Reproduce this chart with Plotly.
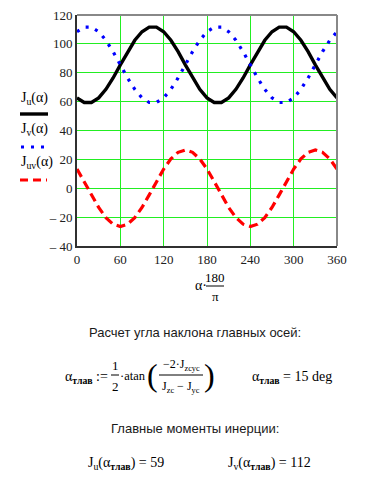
import plotly.graph_objects as go

# ---- data (step 10 deg) ----
alpha_deg = list(range(0, 361, 10))
Ju = [62.6, 59.4, 59.4, 62.6, 68.5, 76.4, 85.5, 94.6, 102.5, 108.4, 111.6, 111.6, 108.4,
      102.5, 94.6, 85.5, 76.4, 68.5, 62.6, 59.4, 59.4, 62.6, 68.5, 76.4, 85.5, 94.6,
      102.5, 108.4, 111.6, 111.6, 108.4, 102.5, 94.6, 85.5, 76.4, 68.5, 62.6]
Jv = [108.4, 111.6, 111.6, 108.4, 102.5, 94.6, 85.5, 76.4, 68.5, 62.6, 59.4, 59.4, 62.6,
      68.5, 76.4, 85.5, 94.6, 102.5, 108.4, 111.6, 111.6, 108.4, 102.5, 94.6, 85.5, 76.4,
      68.5, 62.6, 59.4, 59.4, 62.6, 68.5, 76.4, 85.5, 94.6, 102.5, 108.4]
Juv = [13.3, 4.6, -4.6, -13.3, -20.3, -24.9, -26.5, -24.9, -20.3, -13.3, -4.6, 4.6, 13.3,
       20.3, 24.9, 26.5, 24.9, 20.3, 13.3, 4.6, -4.6, -13.3, -20.3, -24.9, -26.5, -24.9,
       -20.3, -13.3, -4.6, 4.6, 13.3, 20.3, 24.9, 26.5, 24.9, 20.3, 13.3]

x_ticks = [0, 60, 120, 180, 240, 300, 360]
y_ticks = [-40, -20, 0, 20, 40, 60, 80, 100, 120]
y_tick_text = ["\u2013 40", "\u2013 20", "0", "20", "40", "60", "80", "100", "120"]

W, H = 379, 492
L, R, T, B = 77, 337, 15, 246
SERIF = "Liberation Serif"
SANS = "Liberation Sans"


def px(x):
    return (x - L) / (R - L)


def py(y):
    return (B - y) / (B - T)


fig = go.Figure()
fig.add_trace(go.Scatter(x=alpha_deg, y=Ju, mode="lines",
                         line=dict(color="black", width=3.4), name="Ju"))
fig.add_trace(go.Scatter(x=alpha_deg, y=Jv, mode="lines",
                         line=dict(color="#0000ff", width=3.2, dash="3px,7px"), name="Jv"))
fig.add_trace(go.Scatter(x=alpha_deg, y=Juv, mode="lines",
                         line=dict(color="#ff0000", width=3.2, dash="9px,5px"), name="Juv"))

grid = "#22ee22"
fig.update_xaxes(range=[0, 360], tickvals=x_ticks, showgrid=True, gridcolor=grid, gridwidth=1,
                 zeroline=False, showline=True, linecolor="#303030", linewidth=2,
                 ticks="", automargin=False,
                 tickfont=dict(family=SERIF, size=13, color="#202020"))
fig.update_yaxes(range=[-40, 120], tickvals=y_ticks, ticktext=y_tick_text, showgrid=True,
                 gridcolor=grid, gridwidth=1, zeroline=False, showline=True,
                 linecolor="#303030", linewidth=2, ticks="", automargin=False,
                 tickfont=dict(family=SERIF, size=13, color="#202020"))

shapes = [
    # top and right frame (grey)
    dict(type="line", xref="paper", yref="paper", x0=0, x1=1, y0=1, y1=1,
         line=dict(color="#888888", width=2)),
    dict(type="line", xref="paper", yref="paper", x0=1, x1=1, y0=0, y1=1,
         line=dict(color="#888888", width=2)),
    # legend samples
    dict(type="line", xref="paper", yref="paper", x0=px(20), x1=px(48), y0=py(114), y1=py(114),
         line=dict(color="black", width=3.4)),
    dict(type="line", xref="paper", yref="paper", x0=px(21), x1=px(44), y0=py(147), y1=py(147),
         line=dict(color="#0000ff", width=3.2, dash="3px,7px")),
    dict(type="line", xref="paper", yref="paper", x0=px(20), x1=px(47), y0=py(180), y1=py(180),
         line=dict(color="#ff0000", width=3.2, dash="8px,5px")),
    # axis title fraction bar
    dict(type="line", xref="paper", yref="paper", x0=px(206), x1=px(224), y0=py(286), y1=py(286),
         line=dict(color="black", width=1)),
    # 1/2 fraction bar
    dict(type="line", xref="paper", yref="paper", x0=px(111), x1=px(119), y0=py(375), y1=py(375),
         line=dict(color="black", width=1)),
    # big fraction bar
    dict(type="line", xref="paper", yref="paper", x0=px(159), x1=px(203), y0=py(375), y1=py(375),
         line=dict(color="black", width=1)),
]

ann = []


def text(x, y, s, size=13, family=SERIF, anchor="center", color="black", pad=1):
    ann.append(dict(x=px(x), y=py(y), xref="paper", yref="paper", text=s, showarrow=False,
                    xanchor=anchor, yanchor="middle", borderpad=pad,
                    font=dict(family=family, size=size, color=color)))


# legend labels
text(19, 98, "J<sub>u</sub>(\u03b1)", size=14, anchor="left")
text(19, 129, "J<sub>v</sub>(\u03b1)", size=14, anchor="left")
text(19, 162, "J<sub>uv</sub>(\u03b1)", size=14, anchor="left")

# x axis title
text(201, 285, "\u03b1\u00b7", size=14)
text(215, 277, "180", size=13)
text(215, 296, "\u03c0", size=13)

# headings
text(195, 332, "Расчет угла наклона главных осей:", size=13, family=SANS, color="#1a1a1a")
text(195, 428, "Главные моменты инерции:", size=13, family=SANS, color="#1a1a1a")

# formula line
text(63, 377, "\u03b1<sub><b>тлав</b></sub> :=", size=14, anchor="left")
text(115, 365, "1", size=13)
text(115, 386, "2", size=13)
text(119, 376, "\u00b7atan", size=12.5, anchor="left", pad=0)
text(152.5, 375, "(", size=32, pad=0)
text(181, 365, "\u22122\u00b7J<sub>zcyc</sub>", size=12, pad=0)
text(181, 387, "J<sub>zc</sub> \u2212 J<sub>yc</sub>", size=12, pad=0)
text(209, 375, ")", size=32, pad=0)
text(250, 377, "\u03b1<sub><b>тлав</b></sub> = 15 deg", size=14, anchor="left")

# results
text(86, 463, "J<sub>u</sub>(\u03b1<sub><b>тлав</b></sub>) = 59", size=14, anchor="left")
text(226, 463, "J<sub>v</sub>(\u03b1<sub><b>тлав</b></sub>) = 112", size=14, anchor="left")

fig.update_layout(width=W, height=H, autosize=False,
                  margin=dict(l=L, r=W - R, t=T, b=H - B),
                  paper_bgcolor="white", plot_bgcolor="white", showlegend=False,
                  shapes=shapes, annotations=ann)

fig.write_html("out.html", config={"displayModeBar": False},
               post_script="document.body.style.margin='0';")
